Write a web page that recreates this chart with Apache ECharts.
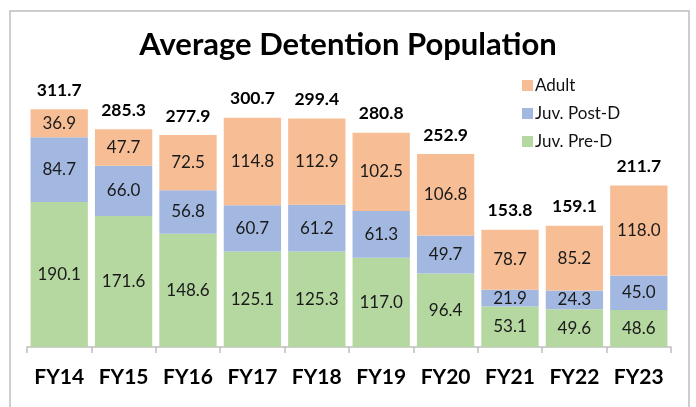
<!DOCTYPE html>
<html><head><meta charset="utf-8">
<script src="https://cdn.jsdelivr.net/npm/echarts@6/dist/echarts.min.js"></script>
<style>html,body{margin:0;padding:0;background:#fff}#c{width:696px;height:407px}</style>
</head><body><div id="c"></div>
<script>
var categories = ['FY14','FY15','FY16','FY17','FY18','FY19','FY20','FY21','FY22','FY23'];
var preD  = [190.1,171.6,148.6,125.1,125.3,117.0,96.4,53.1,49.6,48.6];
var postD = [84.7,66.0,56.8,60.7,61.2,61.3,49.7,21.9,24.3,45.0];
var adult = [36.9,47.7,72.5,114.8,112.9,102.5,106.8,78.7,85.2,118.0];
var totals = [311.7,285.3,277.9,300.7,299.4,280.8,252.9,153.8,159.1,211.7];

var FONT = 'Lato';
var chart = echarts.init(document.getElementById('c'));
var segLabel = {show:true, position:'inside', color:'#1a1a1a', fontFamily:FONT, fontSize:17,
  formatter:function(p){return p.value.toFixed(1);}};
chart.setOption({
  animation:false,
  title:{text:'Average Detention Population', left:'center', top:24,
    textStyle:{fontFamily:FONT, fontWeight:'bold', fontSize:31, color:'#000'}},
  graphic:[{type:'rect', shape:{x:10, y:11, width:679, height:420},
    style:{fill:'none', stroke:'#bdbdbd', lineWidth:1.5}, silent:true}],
  legend:{orient:'vertical', left:517, top:72, itemWidth:11, itemHeight:11, itemGap:11,
    icon:'rect', data:['Adult','Juv. Post-D','Juv. Pre-D'],
    textStyle:{fontFamily:FONT, fontSize:17, color:'#111', padding:[0,0,0,-3]}},
  grid:{left:27, right:25, top:80, bottom:60},
  xAxis:{type:'category', data:categories,
    axisLine:{lineStyle:{color:'#bfbfbf', width:1.5}},
    axisTick:{show:true, length:6, lineStyle:{color:'#bfbfbf', width:1.5}},
    axisLabel:{interval:0, fontFamily:FONT, fontWeight:'bold', fontSize:21, color:'#000', margin:20}},
  yAxis:{type:'value', min:0, max:350, show:false, splitLine:{show:false}},
  series:[
    {name:'Juv. Pre-D', type:'bar', stack:'a', data:preD, itemStyle:{color:'#B5D7A0'},
      label:segLabel, barCategoryGap:'11%'},
    {name:'Juv. Post-D', type:'bar', stack:'a', data:postD, itemStyle:{color:'#A2B8E1'},
      label:segLabel},
    {name:'Adult', type:'bar', stack:'a', data:adult, itemStyle:{color:'#F7BE95'},
      label:segLabel},
    {name:'Total', type:'bar', data:totals, barGap:'-100%', barCategoryGap:'11%', z:1,
      itemStyle:{color:'rgba(0,0,0,0)'}, silent:true,
      label:{show:true, position:'top', distance:10, color:'#000', fontFamily:FONT,
        fontWeight:'bold', fontSize:17.5, formatter:function(p){return p.value.toFixed(1);}}}
  ]
});
</script></body></html>
